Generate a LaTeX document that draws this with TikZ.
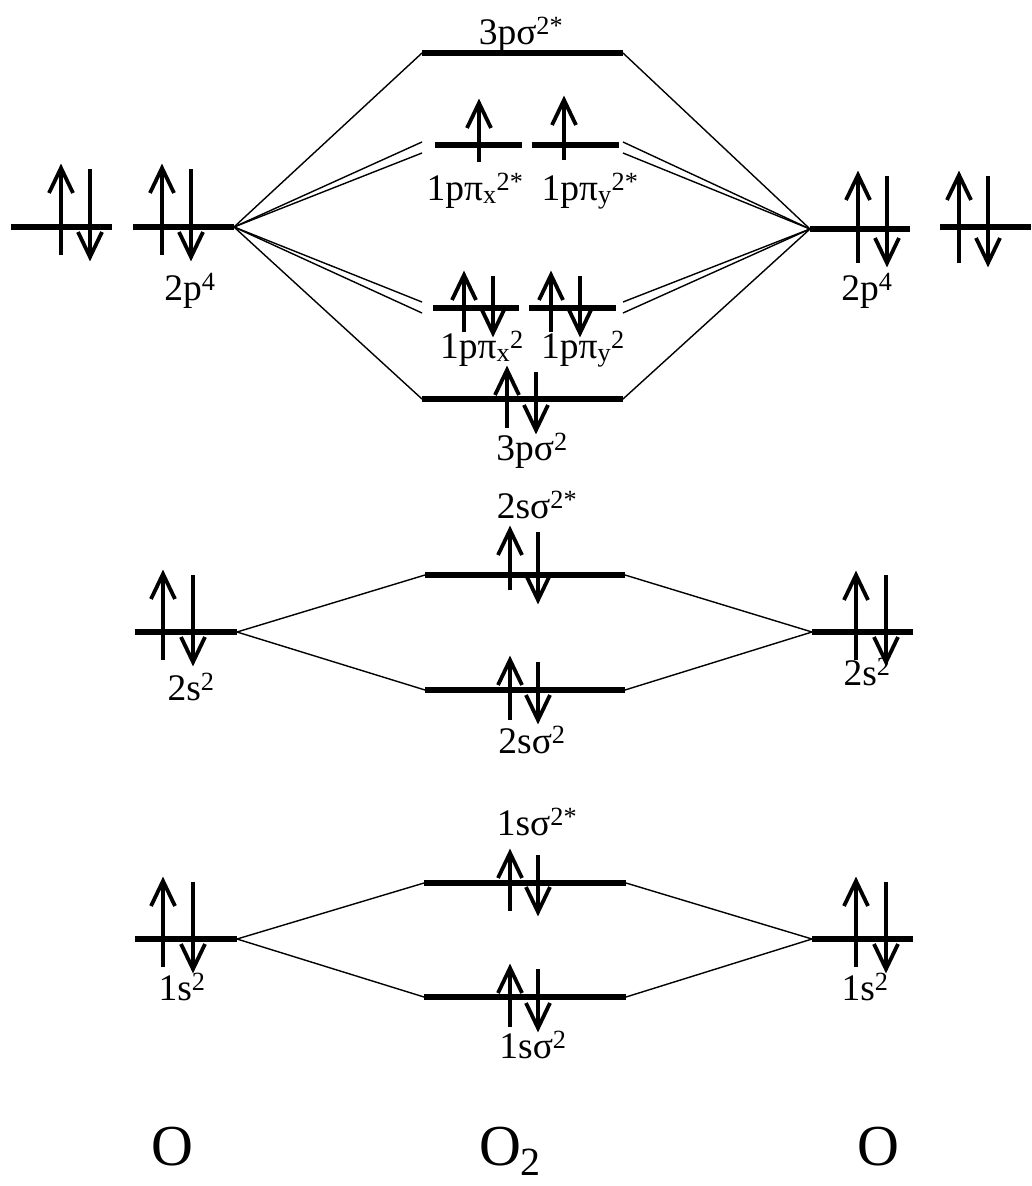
\documentclass[tikz,border=0pt]{standalone}
\usepackage{fontspec}
\setmainfont{Liberation Serif}
\newcommand\elup[3]{% x, top, bottom
  \draw[spin] (#1,#3) -- (#1,#2);
  \draw[spin,line join=miter] ({#1-12},{#2+25}) -- (#1,#2) -- ({#1+12},{#2+25});}
\newcommand\eldn[3]{% x, top, bottom
  \draw[spin] (#1,#2) -- (#1,#3);
  \draw[spin,line join=miter] ({#1-12},{#3-25}) -- (#1,#3) -- ({#1+12},{#3-25});}
\begin{document}
\begin{tikzpicture}[x=1pt,y=-1pt,
  lvl/.style={line width=6pt},
  fan/.style={line width=1.4pt},
  spin/.style={line width=3.8pt},
  lbl/.style={font=\fontsize{37.5}{42}\selectfont, inner sep=0pt, anchor=base},
  big/.style={font=\fontsize{58}{64}\selectfont, inner sep=0pt, anchor=base}]
\useasboundingbox (0,0) rectangle (1031,1186);

% ---------- level end points ----------
% left atom
\coordinate (pLa1) at (11,227);  \coordinate (pLb1) at (112,227);
\coordinate (pLa2) at (133,227); \coordinate (pLb2) at (234,227);
\coordinate (sL2a) at (135,632); \coordinate (sL2b) at (237,632);
\coordinate (sL1a) at (135,939); \coordinate (sL1b) at (237,939);
% right atom
\coordinate (pRa1) at (810,229); \coordinate (pRb1) at (910,229);
\coordinate (pRa2) at (940,227); \coordinate (pRb2) at (1031,227);
\coordinate (sR2a) at (812,632); \coordinate (sR2b) at (913,632);
\coordinate (sR1a) at (812,939); \coordinate (sR1b) at (913,939);
% molecule
\coordinate (sgsA) at (422,53);  \coordinate (sgsB) at (623,53);
\coordinate (pisxA) at (435,145); \coordinate (pisxB) at (522,145);
\coordinate (pisyA) at (532,145); \coordinate (pisyB) at (619,145);
\coordinate (pixA) at (433,308); \coordinate (pixB) at (519,308);
\coordinate (piyA) at (529,308); \coordinate (piyB) at (616,308);
\coordinate (sgA) at (422,399);  \coordinate (sgB) at (623,399);
\coordinate (tsA) at (425,575);  \coordinate (tsB) at (625,575);
\coordinate (tbA) at (425,690);  \coordinate (tbB) at (625,690);
\coordinate (osA) at (424,883);  \coordinate (osB) at (626,883);
\coordinate (obA) at (424,997);  \coordinate (obB) at (626,997);
% free ends of the double lines toward the pi levels
\coordinate (dL1) at (422,142); \coordinate (dL2) at (422,153);
\coordinate (dL3) at (422,302); \coordinate (dL4) at (422,313);
\coordinate (dR1) at (623,142); \coordinate (dR2) at (623,153);
\coordinate (dR3) at (623,302); \coordinate (dR4) at (623,313);

% ---------- levels ----------
\foreach \a/\b in {pLa1/pLb1,pLa2/pLb2,sL2a/sL2b,sL1a/sL1b,
                   pRa1/pRb1,pRa2/pRb2,sR2a/sR2b,sR1a/sR1b,
                   sgsA/sgsB,pisxA/pisxB,pisyA/pisyB,pixA/pixB,piyA/piyB,
                   sgA/sgB,tsA/tsB,tbA/tbB,osA/osB,obA/obB}
  \draw[lvl] (\a) -- (\b);

% ---------- correlation lines ----------
\foreach \t in {sgsA,dL1,dL2,dL3,dL4,sgA} \draw[fan] (pLb2) -- (\t);
\foreach \t in {sgsB,dR1,dR2,dR3,dR4,sgB} \draw[fan] (pRa1) -- (\t);
\draw[fan] (sL2b) -- (tsA); \draw[fan] (sL2b) -- (tbA);
\draw[fan] (sR2a) -- (tsB); \draw[fan] (sR2a) -- (tbB);
\draw[fan] (sL1b) -- (osA); \draw[fan] (sL1b) -- (obA);
\draw[fan] (sR1a) -- (osB); \draw[fan] (sR1a) -- (obB);

% ---------- electrons ----------
% left 2p
\elup{61}{168}{255} \eldn{90}{169}{257}
\elup{162}{168}{255} \eldn{191}{169}{257}
% right 2p
\elup{858}{175}{263} \eldn{887}{176}{263}
\elup{959}{175}{263} \eldn{988}{176}{263}
% left / right 2s
\elup{163}{574}{660} \eldn{193}{575}{662}
\elup{856}{575}{660} \eldn{886}{575}{662}
% left / right 1s
\elup{163}{881}{967} \eldn{193}{882}{969}
\elup{856}{881}{967} \eldn{886}{882}{969}
% pi*
\elup{479}{103}{162}
\elup{564}{100}{160}
% pi
\elup{464}{275}{332} \eldn{493}{276}{333}
\elup{551}{275}{332} \eldn{580}{276}{333}
% 3p sigma
\elup{507}{370}{428} \eldn{536}{372}{430}
% 2s sigma*
\elup{510}{530}{590} \eldn{538}{532}{600}
% 2s sigma
\elup{510}{660}{720} \eldn{538}{662}{720}
% 1s sigma*
\elup{510}{853}{911} \eldn{538}{855}{912}
% 1s sigma
\elup{510}{968}{1027} \eldn{538}{969}{1028}

% ---------- labels ----------
\node[lbl] (l2pL) at (190,300) {2p\textsuperscript{4}};
\node[lbl] (l2pR) at (867,300) {2p\textsuperscript{4}};
\node[lbl] (l2sL) at (191,700) {2s\textsuperscript{2}};
\node[lbl] (l2sR) at (867,685) {2s\textsuperscript{2}};
\node[lbl] (l1sL) at (182,1000) {1s\textsuperscript{2}};
\node[lbl] (l1sR) at (865,1000) {1s\textsuperscript{2}};
\node[lbl] (lsgs) at (521,44) {3pσ\textsuperscript{2*}};
\node[lbl] (lpisx) at (475,200) {1pπ\textsubscript{x}\textsuperscript{2*}};
\node[lbl] (lpisy) at (590,200) {1pπ\textsubscript{y}\textsuperscript{2*}};
\node[lbl] (lpix) at (482,358) {1pπ\textsubscript{x}\textsuperscript{2}};
\node[lbl] (lpiy) at (583,358) {1pπ\textsubscript{y}\textsuperscript{2}};
\node[lbl] (lsg) at (532,460) {3pσ\textsuperscript{2}};
\node[lbl] (lts) at (537,518) {2sσ\textsuperscript{2*}};
\node[lbl] (ltb) at (532,753) {2sσ\textsuperscript{2}};
\node[lbl] (los) at (537,835) {1sσ\textsuperscript{2*}};
\node[lbl] (lob) at (533,1058) {1sσ\textsuperscript{2}};
\node[big] (atL) at (172,1165) {O};
\node[big] (mol) at (510,1165) {O\raisebox{-10pt}{\fontsize{40}{40}\selectfont 2}};
\node[big] (atR) at (878,1165) {O};
\end{tikzpicture}
\end{document}
